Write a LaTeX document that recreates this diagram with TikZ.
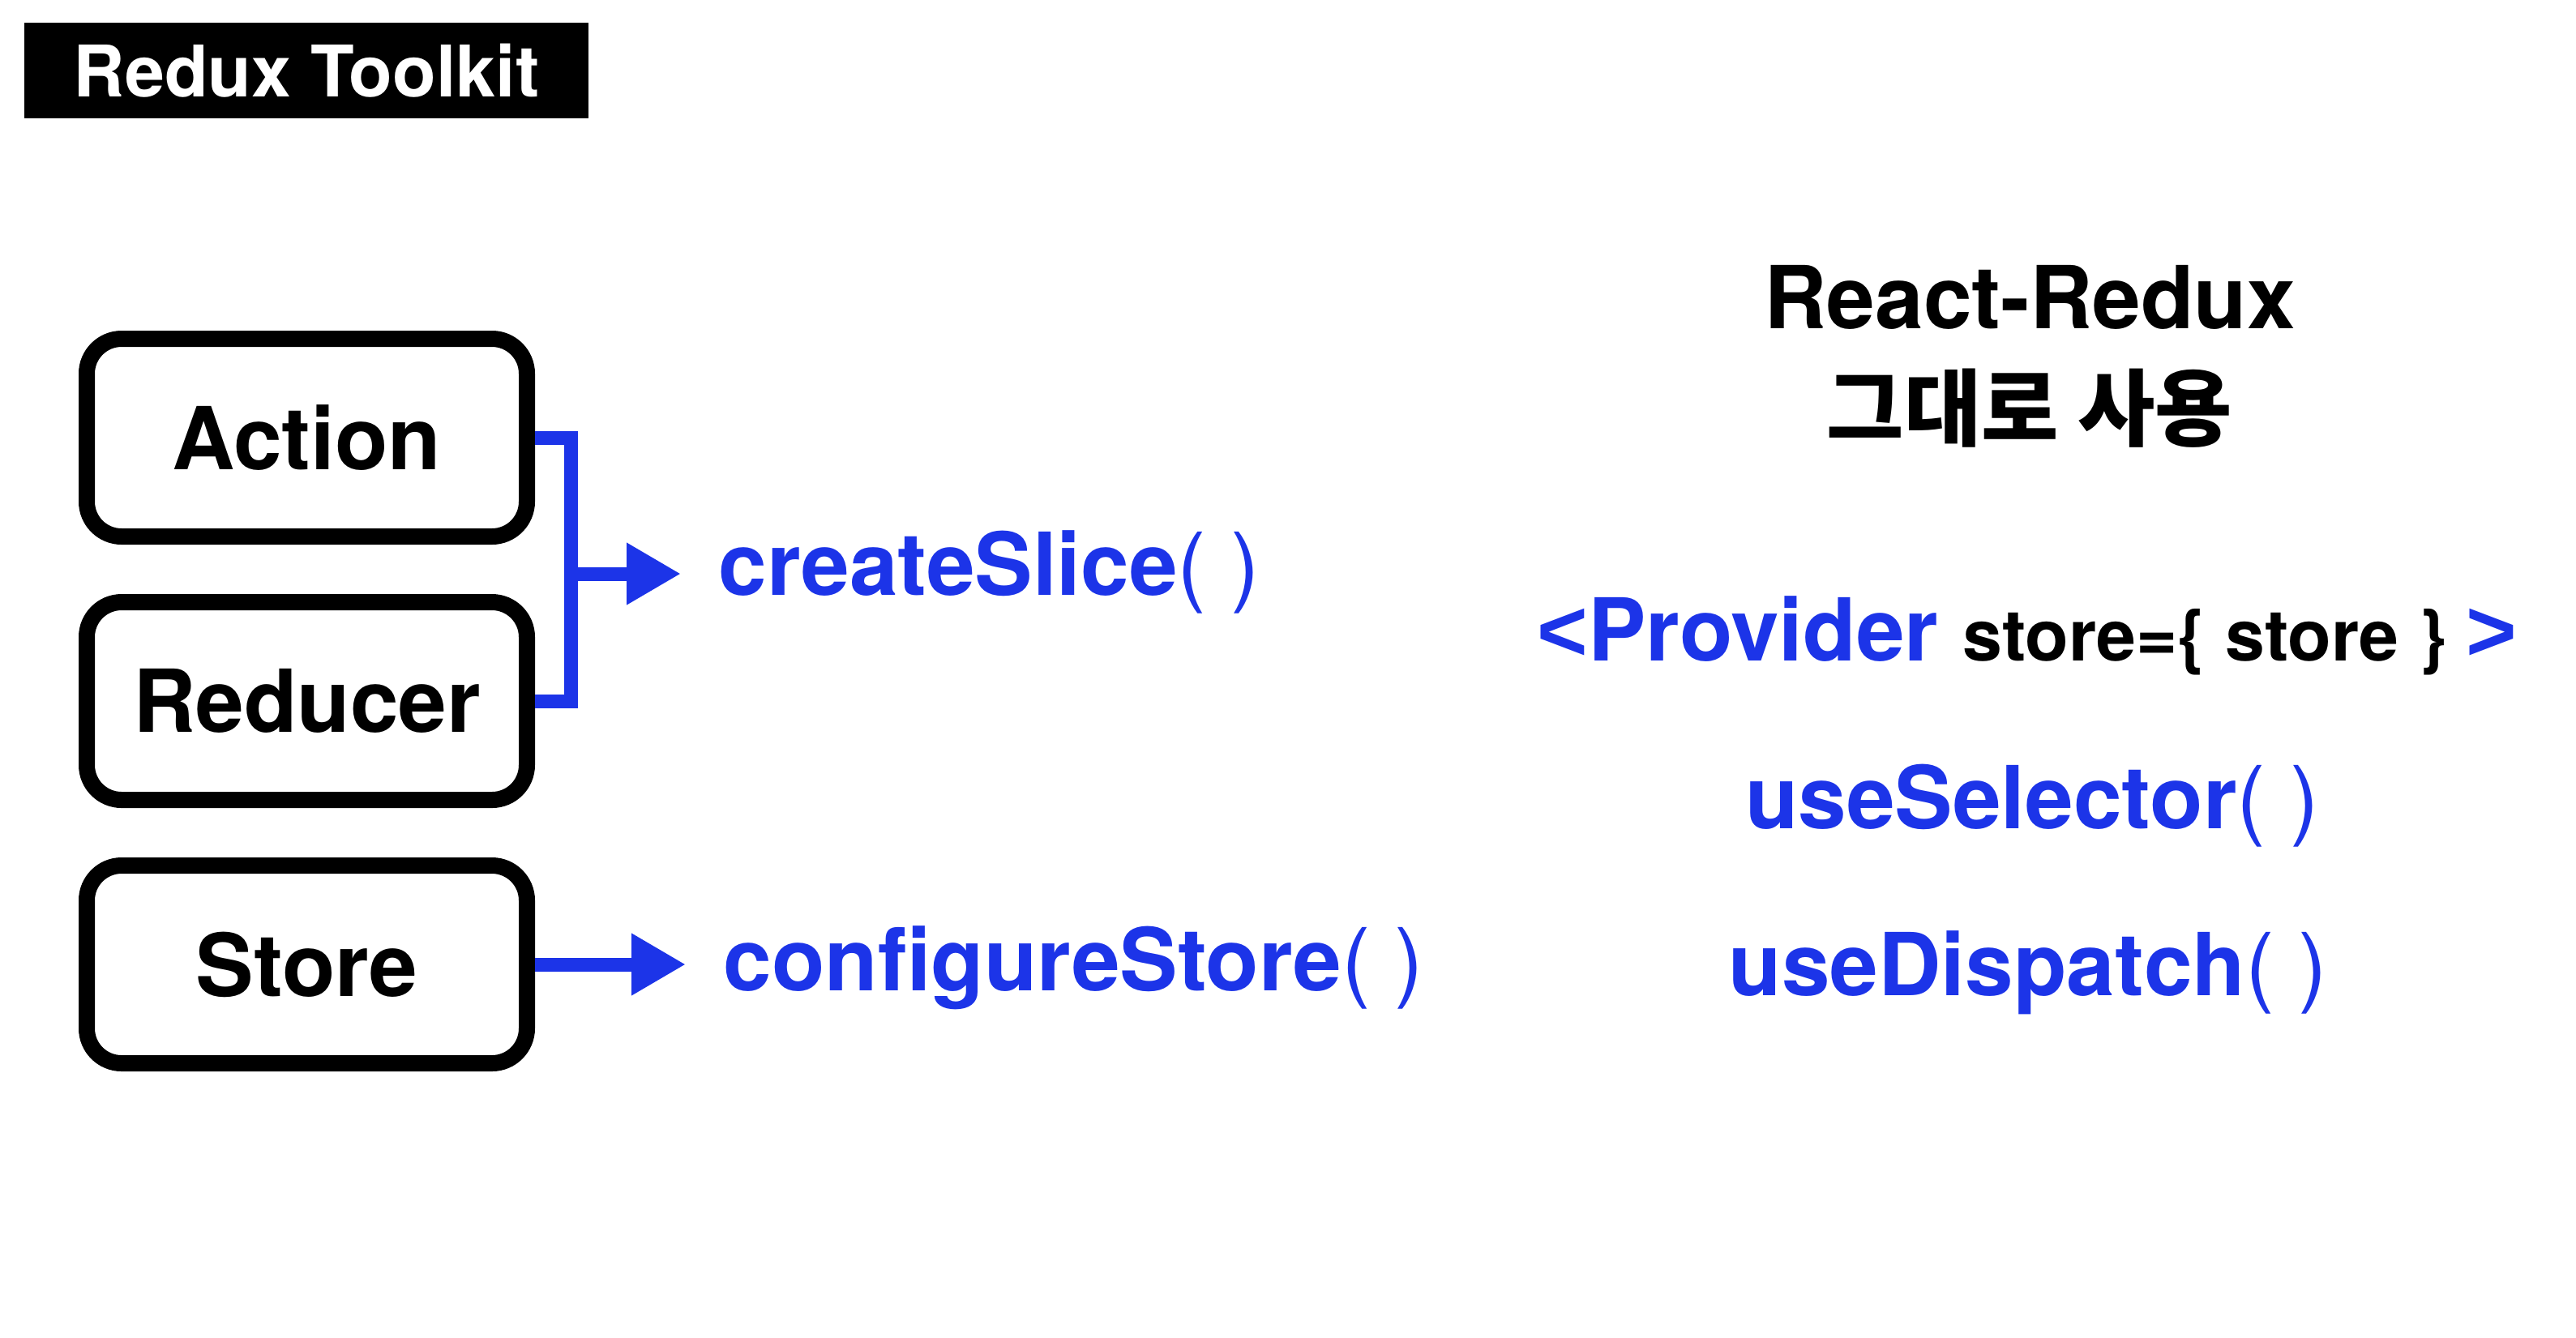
\documentclass[tikz,border=0pt]{standalone}
\usepackage{fontspec}
\setmainfont{TeX Gyre Heros}
\newfontfamily\kofont{Noto Sans CJK KR}
\newfontfamily\signfont{Liberation Sans}
\usetikzlibrary{positioning,arrows.meta}
\definecolor{codeblue}{RGB}{28,52,232}
\newcommand\parens{{\mdseries( )}}

\begin{document}
\begin{tikzpicture}[>={Triangle[length=0.67cm,width=0.72cm]},
                    big/.style={font=\fontsize{30.5}{36}\selectfont\bfseries},
                    part node/.style={draw,big,line width=0.2cm,rounded corners=0.43cm,
                                      minimum width=5.43cm,minimum height=2.44cm},
                    link/.style={codeblue,line width=0.17cm},
                    call/.style={big,codeblue,inner sep=0pt}]

  \useasboundingbox (0,0) rectangle (31.78,-16.5);

  \node[fill=black,text=white,minimum width=6.96cm,minimum height=1.18cm,
        font=\fontsize{25}{30}\selectfont\bfseries] (title) at (3.78,-0.87) {Redux Toolkit};

  % redux toolkit side
  \node[part node] (action) at (3.785,-5.40) {Action};
  \node[part node] (reducer) [below=0.61cm of action] {Reducer};
  \node[part node] (store) [below=0.61cm of reducer] {Store};

  \node[call,anchor=base west] (slice) at (8.86,-7.34) {createSlice\parens};
  \node[call,anchor=base west] (conf) at (8.92,-12.22) {configureStore\parens};

  \coordinate (join) at (7.04,-7.08);
  \draw[link] (action.east) -| (join) |- (reducer.east);
  \draw[link,->,shorten >=0.46cm] (join) -- (join -| slice.west);
  \draw[link,->,shorten >=0.46cm] (store.east) -- (store.east -| conf.west);

  % react-redux side
  \node[big,anchor=base] (react) at (25.04,-4.05) {React-Redux};
  \node[font=\fontsize{29.5}{34}\selectfont\kofont\bfseries,anchor=base] (same) at (25.04,-5.42) {그대로 사용};
  \node[big,anchor=base,inner sep=0pt] (provider) at (25.01,-8.15)
    {\color{codeblue}{\signfont <}Provider\ {\color{black}\fontsize{25}{30}\selectfont store=\{ store \}\ }{\signfont >}};
  \node[call,anchor=base] (selector) at (25.07,-10.22) {useSelector\parens};
  \node[call,anchor=base] (dispatch) at (25.02,-12.28) {useDispatch\parens};
\end{tikzpicture}
\end{document}
